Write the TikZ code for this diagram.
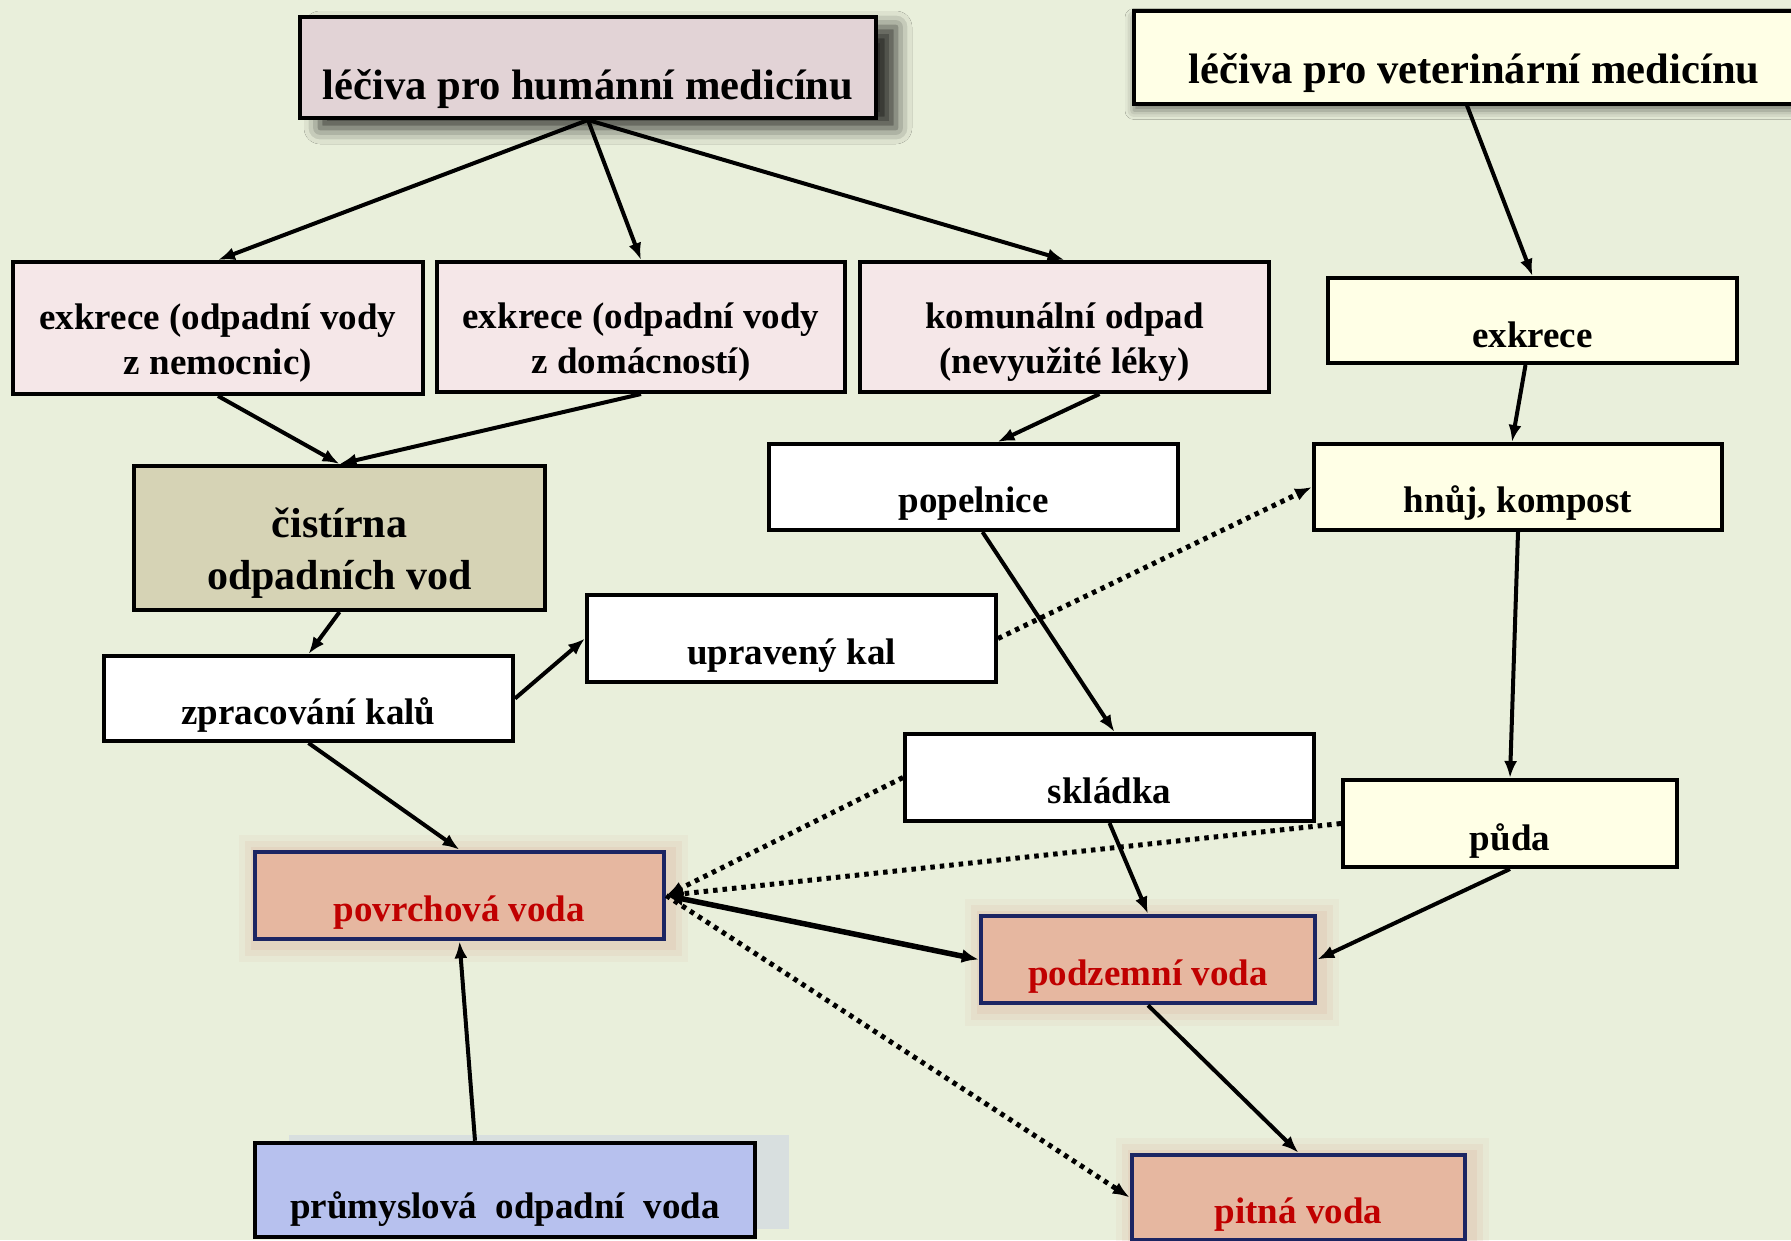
\documentclass[tikz,border=0pt]{standalone}
\usepackage{fontspec}
\setmainfont{Liberation Serif}
\usetikzlibrary{
  positioning,
  arrows.meta,
  shadows.blur,
  }

\definecolor{bgcol}{HTML}{E9EFDB}
\definecolor{humcol}{HTML}{E2D3D6}
\definecolor{excol}{HTML}{F5E7E8}
\definecolor{vetcol}{HTML}{FFFFE6}
\definecolor{covcol}{HTML}{D6D3B5}
\definecolor{vodacol}{HTML}{E6B7A0}
\definecolor{vodaline}{HTML}{1C2563}
\definecolor{vodatext}{HTML}{C00000}
\definecolor{glowcol}{HTML}{DDAE9A}
\definecolor{prumcol}{HTML}{B7C1EE}
\definecolor{prumglow}{HTML}{CDD5E2}

\tikzset{
  box/.style={draw, line width=4pt, inner sep=0pt,
    font=\bfseries\fontsize{37}{45}\selectfont,
    text height=55pt, text depth=4pt},
  twoline/.style={box, align=center, text depth=, text height=100pt},
  voda/.style={box, fill=vodacol, draw=vodaline, line width=4.5pt, text=vodatext,
    preaction={draw=glowcol, line width=40pt, draw opacity=0.10, rounded corners=16pt, transform canvas={shift={(4pt,-3pt)}}},
    preaction={draw=glowcol, line width=28pt, draw opacity=0.14, rounded corners=10pt, transform canvas={shift={(4pt,-3pt)}}},
    preaction={draw=glowcol, line width=16pt, draw opacity=0.2, rounded corners=6pt, transform canvas={shift={(4pt,-3pt)}}}},
  arr/.style={line width=4pt, -{Latex[length=17pt,width=13pt]}},
  dots/.style={line width=5pt, dash pattern=on 4.5pt off 5pt, -{Latex[length=17pt,width=13pt]}},
}

\begin{document}
\begin{tikzpicture}[x=1pt, y=-1pt]
\fill[bgcol] (0,0) rectangle (1791,1240);
\useasboundingbox (0,0) rectangle (1791,1240);

% horni rada
\node[box, fill=humcol, minimum width=576pt, minimum height=101pt,
  font=\bfseries\fontsize{42.6}{50}\selectfont, text height=68pt,
  blur shadow={shadow xshift=20pt, shadow yshift=-10pt, shadow blur radius=16pt, shadow opacity=80}]
  (hum) at (588,67.5) {léčiva pro humánní medicínu};
\node[box, fill=vetcol, minimum width=680pt, minimum height=93pt, anchor=west,
  font=\bfseries\fontsize{42.6}{50}\selectfont, text height=57pt,
  blur shadow={shadow xshift=0pt, shadow yshift=-7pt, shadow blur radius=9pt, shadow opacity=50}]
  (vet) at (1132,57) {léčiva pro veterinární medicínu};

% exkrece
\node[twoline, fill=excol, minimum width=410pt, minimum height=132pt] (ex1) at (218,328)
  {exkrece (odpadní vody\\z nemocnic)};
\node[twoline, fill=excol, minimum width=408pt, minimum height=130pt] (ex2) at (641,327)
  {exkrece (odpadní vody\\z domácností)};
\node[twoline, fill=excol, minimum width=409pt, minimum height=130pt] (kom) at (1064.5,327)
  {komunální odpad\\(nevyužité léky)};
\node[box, fill=vetcol, minimum width=409pt, minimum height=85pt, text height=57pt] (exk) at (1532.5,320.5) {exkrece};

\node[twoline, fill=covcol, minimum width=411pt, minimum height=144pt, text height=112pt,
  font=\bfseries\fontsize{42}{52}\selectfont] (cov) at (339.5,538) {čistírna\\odpadních vod};
\node[box, fill=white, minimum width=409pt, minimum height=86pt] (pop) at (973.5,487) {popelnice};
\node[box, fill=vetcol, minimum width=408pt, minimum height=86pt] (hnuj) at (1518,487) {hnůj, kompost};
\node[box, fill=white, minimum width=409pt, minimum height=87pt] (kal) at (791.5,638.5) {upravený kal};
\node[box, fill=white, minimum width=409pt, minimum height=85pt] (zpr) at (308.5,698.5) {zpracování kalů};
\node[box, fill=white, minimum width=409pt, minimum height=87pt] (skl) at (1109.5,777.5) {skládka};
\node[box, fill=vetcol, minimum width=334pt, minimum height=87pt, text height=58pt] (puda) at (1510,823.5) {půda};

% vody
\node[voda, minimum width=409pt, minimum height=87pt] (pov) at (459.5,895.5) {povrchová voda};
\node[voda, minimum width=334pt, minimum height=87pt] (pod) at (1148,959.5) {podzemní voda};
\node[voda, minimum width=333pt, minimum height=85pt] (pit) at (1298.5,1197.5) {pitná voda};
\node[box, fill=prumcol, line width=4.5pt, minimum width=500pt, minimum height=94pt, text height=61pt,
  preaction={fill=prumglow, fill opacity=0.6, transform canvas={shift={(34pt,8pt)}}}]
  (prum) at (505,1190) {průmyslová\ \ odpadní\ \ voda};

% sipky
\draw[arr] (hum.south) -- (ex1.north);
\draw[arr] (hum.south) -- (ex2.north);
\draw[arr] (hum.south) -- (kom.north);
\draw[arr] ([xshift=-7pt]vet.south) -- (exk.north);
\draw[arr] (ex1.south) -- (cov.north);
\draw[arr] (ex2.south) -- (cov.north);
\draw[arr] ([xshift=35pt]kom.south) -- ([xshift=24pt]pop.north);
\draw[arr] ([xshift=-7pt]exk.south) -- ([xshift=-6pt]hnuj.north);
\draw[arr] (cov.south) -- (zpr.north);
\draw[arr] (zpr.east) -- (kal.west);
\draw[dots] (kal.east) -- (hnuj.west);
\draw[arr] ([xshift=9pt]pop.south) -- ([xshift=5pt]skl.north);
\draw[arr] (hnuj.south) -- (puda.north);
\draw[arr] (zpr.south) -- (pov.north);
\draw[dots] (skl.west) -- (pov.east);
\draw[dots] (puda.west) -- (pov.east);
\draw[arr] (skl.south) -- (pod.north);
\draw[arr] (puda.south) -- (pod.east);
\draw[line width=5.5pt, {Latex[length=17pt,width=14pt]}-{Latex[length=17pt,width=14pt]}] (pov.east) -- (pod.west);
\draw[dots] (pov.east) -- (pit.west);
\draw[arr] (pod.south) -- (pit.north);
\draw[arr] ([xshift=-30pt]prum.north) -- (pov.south);
\end{tikzpicture}
\end{document}
